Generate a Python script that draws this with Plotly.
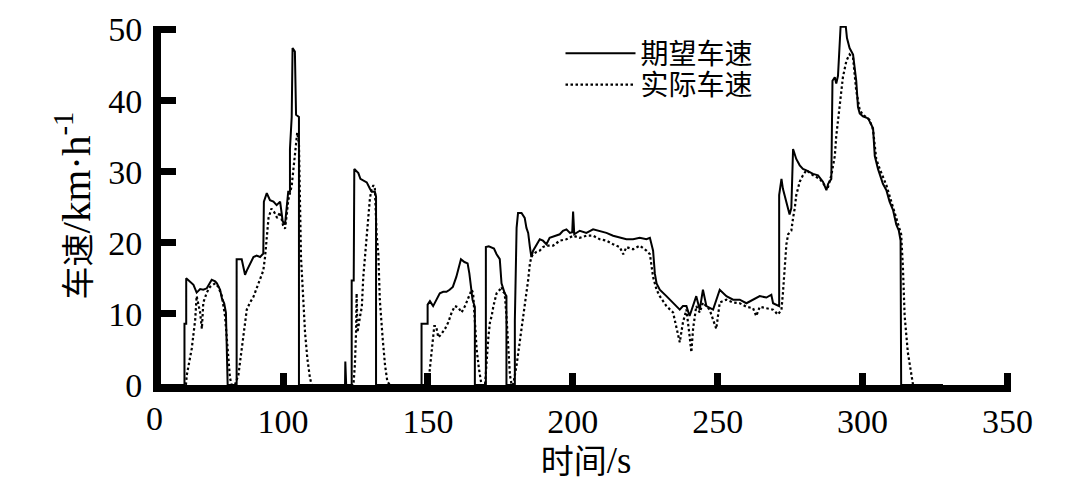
import plotly.graph_objects as go

# ---- data (time in s, speed in km/h) ----
t_desired = [57.9, 66.0, 66.0, 66.6, 66.6, 67.9, 69.1, 70.2, 71.4, 72.5, 73.7, 75.4, 76.6, 77.2, 78.3, 78.9,
             79.7, 80.3, 80.6, 80.9, 84.0, 84.0, 85.75, 86.3, 86.9, 87.5, 88.6, 89.8, 90.9, 92.1, 93.2,
             93.4, 94.4, 95.5, 96.7, 97.8, 99.0, 99.9, 100.7, 101.3, 101.8, 102.4, 102.4, 103.0, 103.3,
             104.1, 104.5, 105.5, 105.5, 121.4, 121.5, 121.8, 123.7, 123.7, 124.4, 124.6, 126.0, 126.7,
             127.7, 128.9, 130.0, 130.6, 131.7, 132.1, 132.1, 147.8, 147.8, 149.9, 149.9, 150.7, 151.8,
             153.0, 154.1, 155.3, 156.4, 157.5, 158.6, 159.8, 160.3, 160.9, 161.4, 162.6, 163.7, 164.3,
             164.8, 165.4, 166.2, 166.2, 170.0, 170.0, 171.0, 172.8, 173.7, 174.8, 175.4, 176.0, 176.5,
             177.1, 177.1, 180.0, 180.0, 180.6, 181.1, 182.3, 182.9, 183.4, 184.0, 184.6, 185.2, 185.7,
             186.3, 187.4, 188.6, 189.7, 190.9, 192.0, 193.2, 195.5, 196.6, 197.8, 199.0, 199.8, 200.1,
             200.5, 202.4, 204.7, 207.0, 209.3, 211.6, 213.9, 216.2, 218.5, 220.8, 223.1, 225.4, 226.6,
             227.7, 228.3, 228.9, 230.0, 232.3, 234.6, 236.9, 238.0, 239.2, 240.3, 241.5, 242.6, 243.8,
             244.9, 246.1, 248.4, 250.7, 251.9, 253.0, 255.3, 257.6, 259.9, 262.2, 264.5, 266.8, 268.5,
             269.1, 270.8, 271.2, 271.2, 272.0, 272.5, 273.7, 274.8, 275.4, 276.0, 276.3, 277.1, 278.3,
             279.4, 280.6, 281.7, 282.9, 284.6, 286.3, 287.5, 288.1, 289.2, 289.6, 290.4, 290.9, 291.5,
             292.1, 292.4, 294.2, 294.6, 295.5, 296.7, 297.8, 298.4, 299.0, 300.1, 301.9, 303.6, 304.2,
             305.3, 307.0, 308.2, 309.3, 310.5, 311.6, 312.5, 313.1, 313.3, 327.7]
v_desired = [0, 0, 8.6, 8.6, 15.0, 14.5, 14.1, 13.0, 13.5, 13.4, 13.6, 14.8, 14.6, 14.3, 13.4, 12.2,
             11.5, 10.2, 4.0, 0, 0, 17.7, 17.7, 16.6, 15.5, 16.1, 17.1, 18.0, 18.2, 18.0, 18.5,
             25.8, 27.0, 26.0, 25.8, 25.3, 25.8, 23.0, 22.6, 24.9, 27.2, 27.2, 33.2, 37.7, 47.4,
             46.9, 38.0, 37.7, 0, 0, 3.3, 0, 0, 14.7, 14.7, 30.4, 29.8, 29.0,
             28.8, 28.5, 27.6, 27.2, 27.2, 26.5, 0, 0, 8.6, 8.6, 11.3, 11.8, 11.1,
             12.0, 12.9, 13.1, 13.1, 13.4, 13.8, 15.2, 16.1, 16.8, 17.7, 17.3, 17.1, 15.7,
             14.3, 12.0, 11.0, 0, 0, 19.4, 19.5, 19.2, 18.4, 17.7, 14.3, 13.4, 12.9,
             12.5, 0, 0, 9.1, 22.1, 24.2, 24.2, 23.8, 23.5, 22.1, 21.4, 19.4, 18.0,
             18.9, 19.6, 20.5, 20.3, 19.8, 20.7, 20.9, 21.2, 21.7, 21.9, 21.4, 21.5, 24.4,
             21.2, 21.7, 21.4, 21.9, 21.7, 21.4, 21.0, 20.7, 20.5, 20.5, 20.7, 20.5, 20.7,
             18.9, 15.7, 14.3, 13.4, 12.5, 11.5, 10.6, 11.1, 11.1, 9.7, 11.1, 12.5, 10.6,
             13.4, 11.1, 10.6, 13.4, 12.9, 12.5, 12.0, 12.0, 11.5, 12.0, 12.5, 12.3, 12.7,
             11.5, 11.1, 11.1, 26.7, 29.0, 27.6, 25.8, 24.0, 24.9, 33.2, 32.8, 31.8, 30.9,
             30.4, 30.2, 29.9, 29.7, 29.5, 28.6, 27.4, 28.3, 29.0, 42.8, 43.3, 42.4, 43.5,
             47.4, 50.4, 50.4, 48.8, 47.4, 46.5, 42.8, 39.1, 38.2, 37.8, 37.5, 36.1, 32.2,
             30.4, 28.3, 27.4, 25.8, 24.6, 22.6, 21.7, 20.3, 0, 0]

t_actual = [57.9, 66.5, 66.8, 67.5, 68.5, 69.7, 70.2, 71.4, 72.0, 72.5, 73.7, 74.8, 76.6, 77.7, 78.9,
            80.0, 80.6, 81.1, 81.7, 82.3, 83.4, 84.6, 85.8, 86.9, 87.5, 88.6, 89.8, 90.9, 92.1, 93.2,
            93.8, 94.4, 95.0, 96.0, 97.0, 98.0, 99.0, 100.0, 100.7, 101.3, 101.8, 103.0, 104.1, 104.9,
            105.5, 105.9, 106.2, 107.0, 107.6, 108.4, 109.3, 109.9, 124.3, 124.8, 125.2, 125.4, 125.7,
            126.6, 127.2, 127.7, 128.3, 128.9, 129.5, 130.0, 130.6, 131.2, 131.7, 132.3, 132.9, 133.4,
            134.4, 135.2, 136.0, 136.9, 150.1, 150.7, 151.3, 151.8, 152.2, 152.8, 153.6, 154.7, 155.9,
            157.0, 158.2, 159.3, 160.5, 161.6, 162.8, 163.9, 165.1, 165.6, 166.2, 166.8, 167.6, 168.5,
            169.7, 170.3, 170.9, 171.4, 172.0, 172.6, 173.7, 174.8, 175.4, 176.0, 176.5, 177.1, 177.7,
            178.3, 178.9, 179.4, 180.6, 181.7, 182.9, 183.4, 184.0, 184.6, 185.2, 185.7, 186.3, 187.4,
            188.6, 189.7, 190.9, 193.2, 195.5, 197.8, 200.1, 202.4, 204.7, 207.0, 209.3, 211.6, 213.9,
            216.2, 217.4, 218.5, 220.8, 223.1, 225.4, 226.6, 227.7, 228.9, 230.0, 232.3, 234.6, 235.7,
            236.9, 238.0, 239.2, 240.3, 240.9, 241.5, 242.6, 243.8, 244.9, 247.2, 249.5, 250.7, 253.0,
            255.3, 257.6, 259.9, 262.2, 263.3, 264.5, 266.8, 269.1, 270.8, 272.0, 272.5, 273.1, 273.7,
            274.3, 275.4, 276.0, 276.6, 277.1, 278.3, 279.4, 280.6, 282.9, 285.2, 286.9, 288.1, 289.2,
            290.4, 290.9, 292.1, 293.2, 294.4, 295.5, 296.7, 297.8, 299.0, 300.1, 302.4, 303.6, 304.7,
            305.9, 308.2, 309.9, 311.1, 312.2, 313.3, 313.9, 314.5, 315.6, 316.8, 317.4, 327.7]
v_actual = [0, 0, 1.4, 3.0, 5.1, 9.2, 12.5, 10.2, 7.9, 11.6, 13.0, 13.8, 14.3, 13.8, 12.5,
            9.7, 6.9, 3.7, 1.0, 0, 0, 1.4, 5.1, 8.8, 10.6, 11.6, 12.4, 13.6, 14.8, 16.1,
            18.0, 20.5, 23.5, 24.8, 24.3, 23.5, 24.3, 22.5, 22.0, 24.0, 26.0, 28.0, 32.5, 35.5,
            34.0, 26.0, 18.0, 12.0, 7.4, 3.7, 1.0, 0, 0, 2.8, 7.4, 12.9, 7.4,
            9.7, 11.0, 15.2, 18.4, 21.2, 24.0, 26.3, 27.6, 28.1, 27.6, 21.2, 18.4, 12.0,
            6.5, 2.8, 0.5, 0, 0, 2.3, 4.2, 6.0, 8.3, 8.3, 6.7, 7.2, 7.9,
            8.8, 10.2, 11.1, 10.9, 10.2, 11.1, 12.2, 13.4, 12.9, 8.8, 5.1, 2.3, 0,
            0, 4.2, 6.9, 8.8, 9.7, 11.1, 12.9, 13.4, 13.8, 13.1, 12.9, 9.7, 5.1,
            1.4, 0, 0, 2.8, 6.0, 9.2, 10.6, 12.5, 14.8, 17.1, 18.0, 18.4, 18.7,
            18.9, 19.4, 19.6, 19.6, 20.3, 20.5, 21.0, 20.7, 21.0, 21.0, 20.5, 20.3, 19.8,
            19.4, 18.4, 19.4, 19.1, 19.6, 18.9, 18.4, 15.2, 13.4, 12.5, 11.1, 10.2, 8.3,
            6.0, 8.8, 10.6, 6.9, 4.6, 7.9, 11.1, 10.2, 11.6, 10.6, 7.9, 11.6, 12.0,
            11.6, 11.5, 11.0, 10.8, 9.7, 11.0, 10.8, 10.6, 9.9, 10.6, 12.9, 16.6, 19.8,
            21.2, 21.7, 23.5, 24.9, 26.7, 28.6, 29.5, 30.2, 29.5, 29.0, 28.1, 27.9, 29.5,
            32.2, 35.0, 39.6, 43.3, 45.6, 46.5, 46.0, 41.4, 38.7, 38.0, 37.3, 35.9, 31.8,
            30.4, 28.1, 25.8, 24.4, 22.6, 21.2, 16.6, 9.7, 4.6, 1.4, 0, 0]

x_tickvals = [100, 150, 200, 250, 300, 350]
x_ticktext = ["100", "150", "200", "250", "300", "350"]
y_tickvals = [0, 10, 20, 30, 40, 50]
series_names = ["期望车速", "实际车速"]

SERIF = "Liberation Serif, Times New Roman, serif"
CJK = "Liberation Serif, Noto Sans CJK SC, serif"

fig = go.Figure()
fig.add_trace(go.Scatter(x=t_desired, y=v_desired, mode="lines", name=series_names[0],
                         line=dict(color="black", width=2), legend="legend"))
fig.add_trace(go.Scatter(x=t_actual, y=v_actual, mode="lines", name=series_names[1],
                         line=dict(color="black", width=2.2, dash="2.5px,2.5px"), legend="legend2"))

leg_common = dict(xanchor="left", yanchor="middle", font=dict(family=CJK, size=28, color="black"),
                  bgcolor="rgba(0,0,0,0)", itemwidth=70)

fig.update_layout(
    width=1080, height=488,
    margin=dict(l=161, r=69, t=21, b=101),
    paper_bgcolor="white", plot_bgcolor="white",
    showlegend=True,
    legend=dict(x=0.47, y=(387 - 49) / 366, **leg_common),
    legend2=dict(x=0.47, y=(387 - 81) / 366, **leg_common),
    xaxis=dict(range=[57.9, 351.2], tickvals=x_tickvals, ticktext=x_ticktext,
               showline=True, linewidth=7, linecolor="black", showgrid=False, zeroline=False,
               ticks="inside", ticklen=12, tickwidth=7, tickcolor="black",
               tickfont=dict(family=SERIF, size=34, color="black"),
               title=dict(text="<span style='font-size:33px'>时间</span>/s",
                          font=dict(family=CJK, size=37, color="black"), standoff=10)),
    yaxis=dict(range=[0, 50.5], tickvals=y_tickvals,
               showline=True, linewidth=8, linecolor="black", showgrid=False, zeroline=False,
               ticks="inside", ticklen=15, tickwidth=7, tickcolor="black", ticklabelstandoff=4,
               tickfont=dict(family=SERIF, size=34, color="black"),
               title=dict(text="<span style='font-size:33px'>车速</span>/km·h<sup>-1</sup>",
                          font=dict(family=CJK, size=41, color="black"), standoff=8)),
    annotations=[dict(text="0", xref="paper", yref="paper", x=(154 - 161) / 850, y=-(421 - 387) / 366,
                      xanchor="center", yanchor="middle", showarrow=False,
                      font=dict(family=SERIF, size=34, color="black"))],
)

fig.write_html("out.html", config={"displayModeBar": False})
with open("out.html", encoding="utf-8") as f:
    html = f.read()
html = html.replace("<head>", "<head><style>html,body{margin:0;padding:0;overflow:hidden}</style>", 1)
with open("out.html", "w", encoding="utf-8") as f:
    f.write(html)
